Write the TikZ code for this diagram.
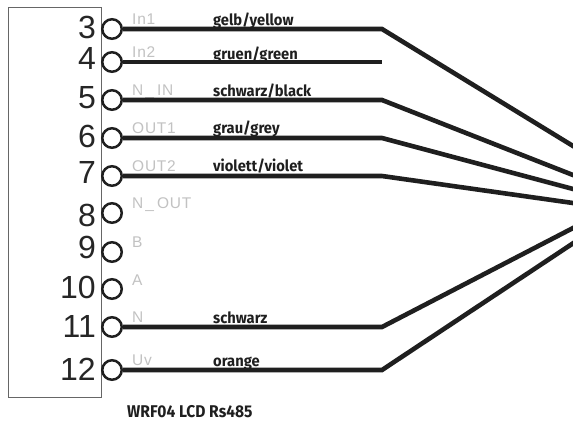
\documentclass[tikz,border=0pt]{standalone}
\usepackage{fontspec}
\setmainfont{Liberation Sans}
\newfontfamily\wirefont{Fira Sans}[UprightFont=*,BoldFont=* Bold]
\newfontfamily\sigfont{Liberation Sans}[LetterSpace=5]
\begin{document}
\begin{tikzpicture}[x=1pt,y=-1pt,
  pin/.style={circle,draw=black!88,line width=2.5pt,minimum size=19.5pt,inner sep=0pt},
  num/.style={anchor=base east,inner sep=0pt,font=\fontsize{32}{32}\selectfont,text=black!85},
  sig/.style={anchor=base west,inner sep=0pt,font=\sigfont\fontsize{15.5}{15.5}\selectfont,text=black!24},
  wlabel/.style={anchor=base west,inner sep=0pt,font=\wirefont\bfseries\fontsize{15.5}{15.5}\selectfont,text=black!88,xscale=.95,transform shape},
  ttl/.style={anchor=base west,inner sep=0pt,font=\wirefont\bfseries\fontsize{17}{17}\selectfont,text=black!88,xscale=.917,transform shape},
  wire/.style={line width=4.6pt,draw=black!88,line join=miter}]
\useasboundingbox (0,0) rectangle (573,421);
\fill[white] (0,0) rectangle (573,421);
\node[draw=black!60,line width=1pt,minimum width=93pt,minimum height=390.5pt,inner sep=0pt,anchor=north west] (box) at (7.5,6.5) {};
% pin numbers
\foreach \n/\y/\ny in {3/29/38,4/62/69,5/100/108,6/138/147,7/176/183,8/213/226,9/252/258,10/289/298,11/327/337,12/370/380}{
  \node[num] (num\n) at (96,\ny) {\n};
}
% signal names
\node[sig] (s3) at (132,24) {In1};
\node[sig] (s4) at (132,57) {In2};
\node[sig] (s5) at (132,95) {N\kern2pt\_\kern3pt IN};
\node[sig] (s6) at (132,133) {OUT1};
\node[sig] (s7) at (132,171) {OUT2};
\node[sig] (s8) at (132,208) {N\kern2pt\_\kern3pt OUT};
\node[sig] (s9) at (132,247) {B};
\node[sig] (s10) at (132,285) {A};
\node[sig] (s11) at (132,322) {N};
\node[sig] (s12) at (132,365) {Uv};
% wire labels
\node[wlabel] (l3) at (213,25) {gelb/yellow};
\node[wlabel] (l4) at (213,59) {gruen/green};
\node[wlabel] (l5) at (213,96) {schwarz/black};
\node[wlabel] (l6) at (213,133) {grau/grey};
\node[wlabel] (l7) at (213,171) {violett/violet};
\node[wlabel] (l11) at (213,323) {schwarz};
\node[wlabel] (l12) at (213,366) {orange};
\node[ttl] (title) at (127,417) {WRF04 LCD Rs485};
% pins
\foreach \n/\y in {3/29,4/62,5/100,6/138,7/176,8/213,9/252,10/289,11/327,12/370}{
  \node[pin] (p\n) at (112,\y) {};
}
% bends and free ends
\coordinate (b3) at (382,29);  \coordinate (e3) at (575,147.2);
\coordinate (b4) at (382,62);
\coordinate (b5) at (382,100); \coordinate (e5) at (575,175.8);
\coordinate (b6) at (382,138); \coordinate (e6) at (575,189.5);
\coordinate (b7) at (382,176); \coordinate (e7) at (575,203.3);
\coordinate (b11) at (382,327); \coordinate (e11) at (575,227);
\coordinate (b12) at (382,370); \coordinate (e12) at (575,242);
\draw[wire] (p3.east) -- (b3) -- (e3);
\draw[wire] (p4.east) -- (b4);
\draw[wire] (p5.east) -- (b5) -- (e5);
\draw[wire] (p6.east) -- (b6) -- (e6);
\draw[wire] (p7.east) -- (b7) -- (e7);
\draw[wire] (p11.east) -- (b11) -- (e11);
\draw[wire] (p12.east) -- (b12) -- (e12);
\end{tikzpicture}
\end{document}
